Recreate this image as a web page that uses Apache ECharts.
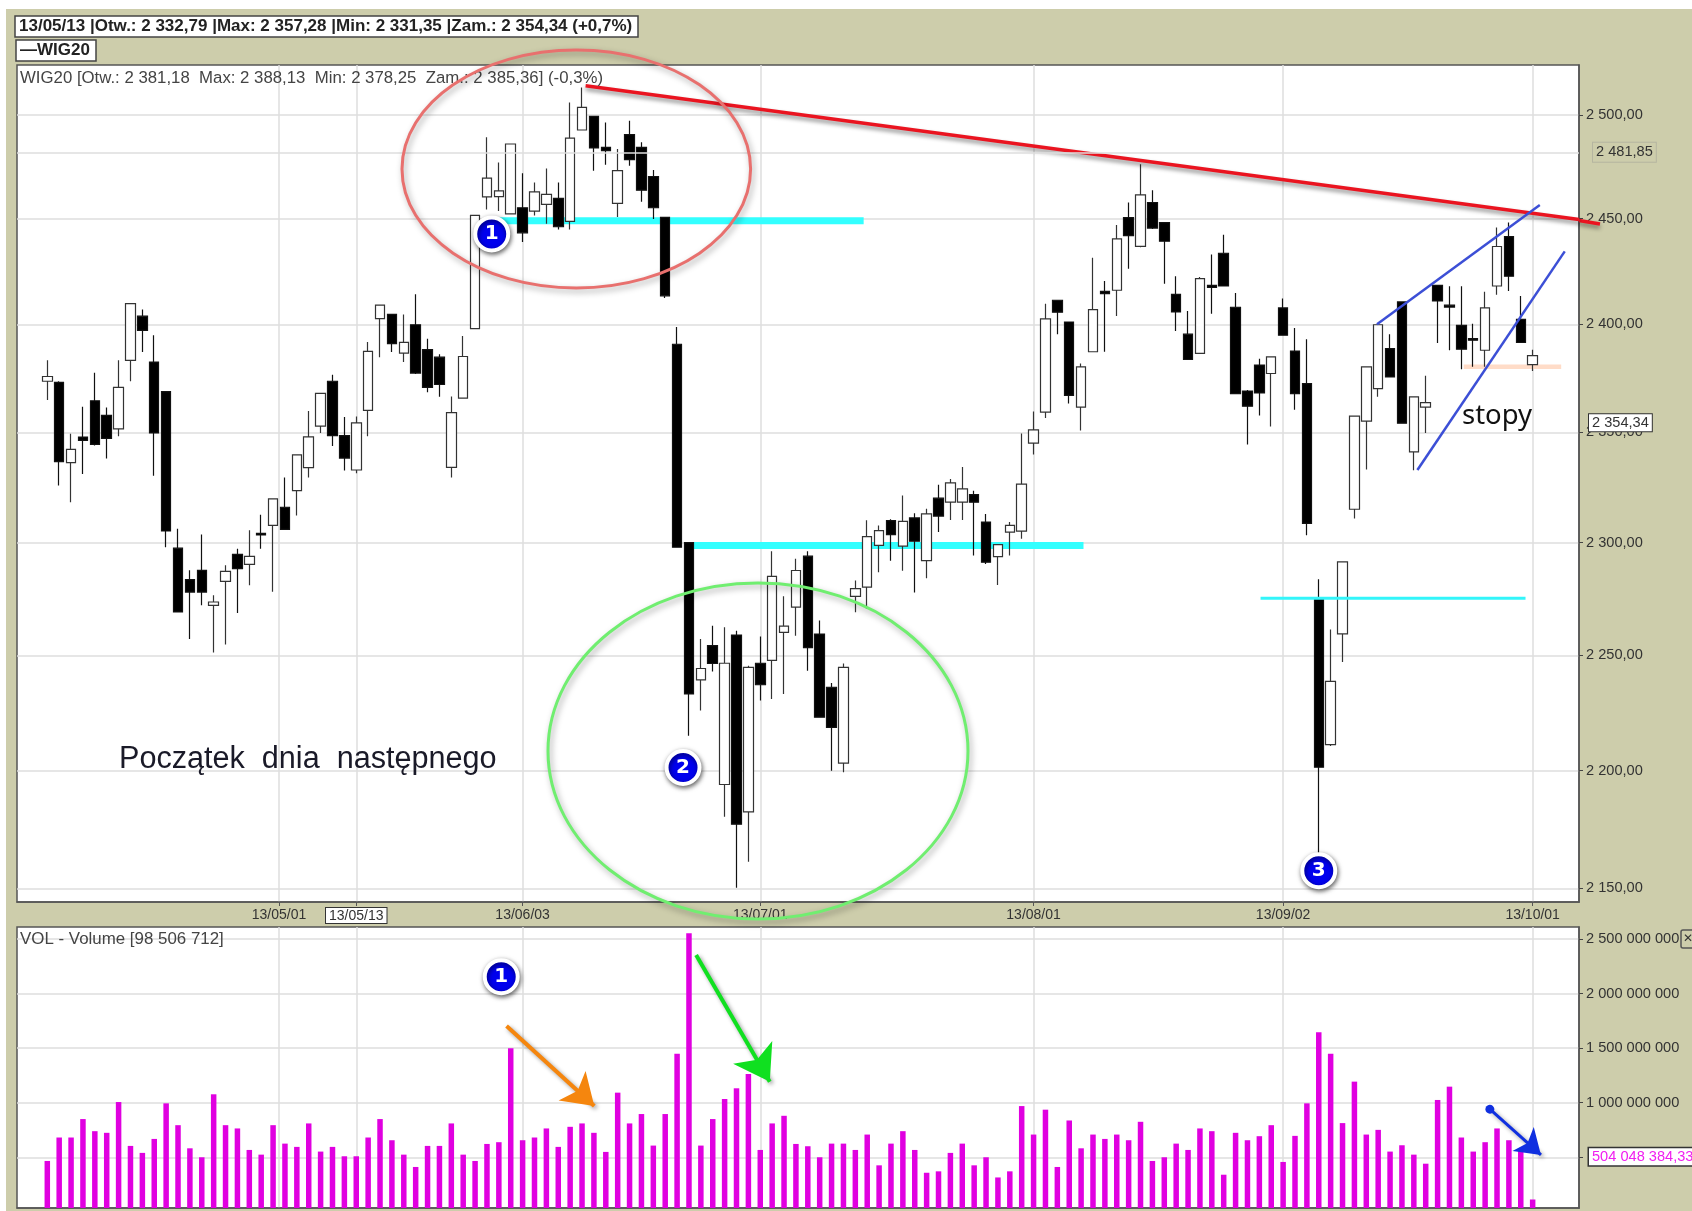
<!DOCTYPE html>
<html>
<head>
<meta charset="utf-8">
<style>
html,body{margin:0;padding:0;background:#fff;width:1692px;height:1211px;overflow:hidden}
#frame{position:absolute;left:6px;top:9px;right:0;bottom:0;background:#CDCDAB}
#chart{position:absolute;left:0;top:0;width:1692px;height:1211px;filter:blur(0.45px)}
</style>
<script src="https://cdn.jsdelivr.net/npm/echarts@6/dist/echarts.min.js"></script>
</head>
<body>
<div id="frame"></div>
<div id="chart"></div>
<script>
// Daily WIG20 values (trading-day index = array position)
const opens = [2373.5,2373.0,2336.1,2347.8,2364.5,2357.8,2351.6,2383.2,2403.8,2382.4,
2368.7,2297.5,2283.4,2287.6,2272.0,2282.7,2294.7,2290.2,2304.1,2307.7,
2315.9,2323.4,2333.9,2352.8,2373.5,2348.5,2332.79,2360.1,2402.7,2404.7,
2386.6,2399.8,2388.2,2384.7,2334.0,2365.7,2398.0,2460.4,2460.5,2452.3,
2455.2,2453.6,2456.8,2459.7,2448.7,2492.7,2499.3,2484.3,2457.3,2490.5,
2484.3,2470.2,2450.6,2390.7,2300.0,2239.2,2254.2,2194.0,2258.9,2182.3,
2246.5,2247.8,2260.1,2271.2,2293.9,2259.3,2236.0,2203.2,2276.0,2280.1,
2298.7,2309.9,2298.4,2311.1,2291.9,2320.0,2318.2,2318.2,2321.6,2309.2,
2293.7,2304.7,2305.1,2345.0,2359.3,2411.3,2401.1,2361.6,2387.2,2415.5,
2416.0,2450.5,2436.8,2457.7,2448.1,2414.1,2395.4,2386.4,2418.3,2433.5,
2408.0,2369.0,2381.0,2377.1,2407.7,2387.5,2372.4,2275.0,2211.1,2259.4,
2315.0,2355.1,2370.1,2388.7,2410.5,2341.0,2361.6,2418.3,2409.0,2399.5,
2393.3,2387.9,2418.0,2441.4,2402.3,2381.18];
const closes = [2375.7,2336.6,2342.2,2346.3,2344.5,2347.2,2370.7,2409.7,2397.2,2349.7,
2305.2,2269.1,2277.9,2277.9,2273.5,2287.1,2288.3,2293.8,2303.4,2319.7,
2305.9,2339.7,2347.9,2367.9,2348.5,2338.2,2354.34,2387.4,2409.0,2391.0,
2391.6,2377.3,2370.7,2372.0,2359.0,2385.0,2451.5,2469.4,2463.3,2485.9,
2443.2,2462.8,2461.6,2446.1,2488.8,2503.7,2484.0,2482.7,2473.0,2478.3,
2463.6,2455.2,2413.4,2297.9,2233.1,2244.2,2246.4,2246.5,2177.1,2244.7,
2237.1,2284.9,2262.8,2287.5,2253.4,2223.0,2218.6,2244.7,2279.4,2302.7,
2305.4,2303.6,2309.5,2300.6,2312.9,2311.9,2326.9,2324.2,2318.2,2291.2,
2299.1,2307.7,2326.4,2351.1,2402.6,2405.7,2367.0,2380.2,2406.9,2414.4,
2440.3,2441.9,2461.4,2445.5,2439.2,2405.8,2383.6,2421.5,2417.4,2418.0,
2367.8,2362.0,2368.1,2384.8,2394.9,2367.8,2308.6,2201.4,2238.6,2291.4,
2357.4,2380.2,2399.8,2375.5,2354.2,2366.3,2363.6,2411.0,2408.1,2388.4,
2392.6,2407.7,2436.7,2422.6,2391.5,2385.36];
const lows = [2364.8,2325.7,2318.2,2331.0,2344.0,2338.0,2348.2,2373.5,2387.1,2330.2,
2297.9,2269.1,2257.2,2272.0,2251.2,2254.7,2268.6,2280.9,2297.2,2278.0,
2305.9,2312.2,2329.4,2349.7,2343.7,2332.5,2331.35,2348.2,2384.7,2387.1,
2382.4,2376.9,2368.4,2366.3,2329.4,2365.7,2398.0,2454.4,2453.6,2452.3,
2438.9,2451.5,2447.6,2444.8,2444.8,2492.7,2473.0,2475.9,2450.8,2475.4,
2458.1,2449.8,2412.3,2297.9,2215.0,2225.9,2242.9,2180.2,2150.3,2161.2,
2230.2,2230.9,2233.1,2258.6,2243.2,2223.0,2199.9,2199.2,2269.0,2270.5,
2286.7,2291.9,2287.4,2277.7,2284.1,2304.7,2310.2,2310.2,2294.2,2290.4,
2281.1,2294.2,2301.7,2339.8,2356.5,2395.4,2363.2,2350.8,2387.2,2387.2,
2403.9,2426.2,2436.4,2445.0,2419.1,2396.9,2383.6,2386.4,2405.0,2417.9,
2367.8,2344.4,2357.7,2352.7,2394.9,2360.4,2303.3,2160.0,2210.5,2247.1,
2310.8,2333.0,2366.3,2375.5,2354.2,2332.7,2349.7,2391.3,2387.9,2379.1,
2380.2,2380.2,2413.9,2415.7,2391.5,2378.25];
const highs = [2383.2,2373.5,2349.3,2361.7,2377.4,2361.4,2383.2,2409.7,2406.9,2394.9,
2368.7,2306.2,2287.6,2303.6,2276.5,2289.9,2297.2,2305.5,2312.5,2319.9,
2329.4,2339.7,2359.8,2367.9,2376.5,2357.0,2357.28,2391.7,2409.0,2404.7,
2404.6,2414.1,2393.3,2386.0,2366.5,2394.5,2451.5,2489.2,2477.0,2485.9,
2471.8,2467.3,2474.1,2467.3,2506.1,2513.4,2499.3,2496.4,2483.5,2497.2,
2486.7,2473.3,2450.6,2398.8,2300.0,2257.1,2263.0,2262.3,2260.8,2245.4,
2258.2,2296.1,2276.0,2292.7,2296.1,2265.3,2237.9,2246.4,2283.1,2310.0,
2307.7,2310.5,2321.2,2313.2,2315.2,2326.1,2328.7,2334.2,2323.4,2312.9,
2299.1,2309.2,2349.5,2359.6,2409.7,2411.3,2401.1,2381.7,2431.4,2420.4,
2447.0,2457.7,2476.1,2463.6,2448.1,2422.6,2406.3,2422.3,2432.9,2442.3,
2414.7,2369.5,2384.0,2384.8,2412.1,2398.3,2393.0,2283.6,2261.3,2291.4,
2357.4,2380.2,2399.8,2395.4,2410.5,2366.3,2376.0,2418.3,2417.9,2417.9,
2400.3,2415.3,2445.8,2448.1,2413.3,2388.13];
// Volume in millions
const volumes = [466,681,681,850,739,724,1006,604,540,668,994,794,582,500,1077,794,764,567,524,794,
625,595,810,552,595,509,509,681,850,656,524,411,604,604,810,524,466,622,638,1500,
656,681,764,595,779,810,724,549,1092,810,896,607,896,1448,2553,607,850,1034,1132,1264,
567,810,880,622,601,500,625,625,567,708,426,625,739,567,358,371,540,625,426,500,
315,371,969,708,936,411,837,582,708,668,708,656,825,466,500,625,567,764,739,340,
724,656,693,794,457,696,994,1645,1448,813,1193,708,751,552,610,524,441,1025,1147,681,
552,638,764,656,582,113];

const priceTicks = [2150,2200,2250,2300,2350,2400,2450,2500];
const volumeTicks = [1000,1500,2000,2500];
const volumeGrid = [500,1000,1500,2000,2500];
const dateTickPositions = [19.5,26,40,60,83,104,125];
const dateTickLabels = ['13/05/01','13/05/13','13/06/03','13/07/01','13/08/01','13/09/02','13/10/01'];

const lastClose = 2354.34;
const previewLevel = 2481.85;
const lastVolume = 504.048;

// Hand-drawn annotations, in trading-day index and price / volume units
const cyanTop = [[37.8,2449],[68.7,2449]];
const cyanMid = [[54.4,2298.7],[87.2,2298.7]];
const cyanLow = [[102.1,2275.2],[124.4,2275.2]];
const salmonStops = [[119.2,2380.2],[127.4,2380.2]];
const redTrend = [[45.3,2514.3],[128.9,2449.6]];
const blueUpper = [[111.9,2400],[125.6,2456.5]];
const blueLower = [[115.3,2332.8],[127.7,2434.4]];
const priceBadges = [{name:'1',value:[37.4,2442.7]},{name:'2',value:[53.5,2201.3]},{name:'3',value:[107,2157.4]}];
const volumeBadges = [{name:'1',value:[38.2,2155]}];
const orangeArrow = [[38.65,1703],[46.03,970]];
const greenArrow = [[54.6,2353],[60.8,1192]];
const blueArrow = [[121.4,940],[125.7,521]];

const candleData = opens.map((o,i)=>[i,o,closes[i],lows[i],highs[i]]);
const volumeData = volumes.map((v,i)=>[i,v]);
const FONT = '"Liberation Sans", Arial, sans-serif';
const spaced = s => s.replace(/\B(?=(\d{3})+(?!\d))/g,' ');
const priceText = v => spaced(String(Math.floor(v))) + ',' + (v%1).toFixed(2).slice(2);
const gridLine = {color:'#DEDEDE',width:1.5};
const XMIN=-2.55, XMAX=128.9;
const redShadow = {shadowColor:'rgba(0,0,0,.45)',shadowBlur:4,shadowOffsetY:3};

function annotationLine(name,data,color,width,z,extra){
  return {name,type:'line',xAxisIndex:0,yAxisIndex:0,data,z,symbol:'none',showSymbol:false,clip:false,silent:true,animation:false,
    lineStyle:Object.assign({color,width,cap:'butt'},extra||{})};
}
function arrowLine(pts,color,startSym,headSize,width){
  return [{coord:pts[0],symbol:startSym||'none',symbolSize:9,lineStyle:{color,width:width,type:'solid',shadowColor:'rgba(0,0,0,.4)',shadowBlur:4,shadowOffsetX:2,shadowOffsetY:2},itemStyle:{color}},
          {coord:pts[1],symbol:'arrow',symbolSize:headSize,itemStyle:{color}}];
}
const badgeStyle = {
  type:'scatter',symbol:'circle',symbolSize:33,z:6,silent:true,animation:false,clip:false,
  itemStyle:{color:'#0000EE',borderColor:'#fff',borderWidth:4,shadowColor:'rgba(0,0,0,.55)',shadowBlur:5,shadowOffsetX:1,shadowOffsetY:2,opacity:1},
  label:{show:true,position:'inside',formatter:'{b}',color:'#fff',fontFamily:'"DejaVu Sans"',fontSize:20,fontWeight:'bold'}
};
const axisEdge = {show:true,onZero:false,lineStyle:{color:'#555',width:1.5}};

const chart = echarts.init(document.getElementById('chart'),null,{renderer:'canvas'});
chart.setOption({
  animation:false,
  backgroundColor:'transparent',
  grid:[
    {left:17,right:113,top:65,bottom:309,show:true,backgroundColor:'#fff',borderColor:'#555',borderWidth:1.5},
    {left:17,right:113,top:927,bottom:3,show:true,backgroundColor:'#fff',borderColor:'#555',borderWidth:1.5}
  ],
  xAxis:[
    {type:'value',gridIndex:0,min:XMIN,max:XMAX,
     axisLine:axisEdge,
     axisTick:{show:true,length:4,customValues:dateTickPositions,lineStyle:{color:'#555'}},
     splitLine:{show:true,lineStyle:gridLine},
     axisLabel:{show:true,customValues:dateTickPositions,margin:6,color:'#333',fontFamily:FONT,fontSize:14,hideOverlap:false,showMinLabel:true,showMaxLabel:true,
       formatter:v=>{const t=dateTickLabels[dateTickPositions.indexOf(v)];return v===26?'{box|'+t+'}':t;},
       rich:{box:{backgroundColor:'#fff',borderColor:'#333',borderWidth:1,padding:[1,3,0,3],color:'#333',fontFamily:FONT,fontSize:14}}}},
    {type:'value',gridIndex:1,min:XMIN,max:XMAX,
     axisLine:axisEdge,
     axisTick:{show:false,customValues:dateTickPositions},
     splitLine:{show:true,lineStyle:gridLine},
     axisLabel:{show:false}}
  ],
  yAxis:[
    {type:'log',logBase:10,gridIndex:0,position:'right',min:2144.3,max:2524.5,
     axisLine:axisEdge,
     axisTick:{show:true,length:4,customValues:priceTicks,lineStyle:{color:'#444'}},
     splitLine:{show:true,lineStyle:gridLine},minorTick:{show:false},minorSplitLine:{show:false},
     axisLabel:{show:true,customValues:priceTicks,margin:7,color:'#333',fontFamily:FONT,fontSize:14.6,formatter:v=>priceText(Math.round(v*100)/100)}},
    {type:'value',gridIndex:1,position:'right',min:35,max:2610,
     axisLine:axisEdge,
     axisTick:{show:true,length:4,customValues:volumeGrid,lineStyle:{color:'#444'}},
     splitLine:{show:true,lineStyle:gridLine},
     axisLabel:{show:true,customValues:volumeTicks,margin:7,color:'#333',fontFamily:FONT,fontSize:14.6,formatter:v=>spaced(String(Math.round(v*1e6)))}}
  ],
  series:[
    annotationLine('cyanTop',cyanTop,'#33FFFF',7,1),
    annotationLine('cyanMid',cyanMid,'#33FFFF',7,1),
    annotationLine('salmon',salmonStops,'#FFDCC8',4.5,1),
    {type:'candlestick',name:'WIG20',xAxisIndex:0,yAxisIndex:0,data:candleData,barWidth:10,z:2,silent:true,animation:false,
     itemStyle:{color:'#fff',color0:'#000',borderColor:'#333',borderColor0:'#111',borderWidth:1.2},
     markLine:{silent:true,symbol:'none',animation:false,precision:2,
       data:[
        {yAxis:previewLevel,lineStyle:{color:'#DEDEDE',width:1.5,type:'solid'},
         label:{show:true,position:'end',distance:14,formatter:priceText(previewLevel),color:'#333',fontFamily:FONT,fontSize:14.6,backgroundColor:'#CDCDAB',borderColor:'#B5B5A0',borderWidth:1,padding:[2,3]}},
        {yAxis:lastClose,lineStyle:{color:'rgba(0,0,0,0)',width:1,type:'solid'},
         label:{show:true,position:'end',distance:10,formatter:priceText(lastClose),color:'#333',fontFamily:FONT,fontSize:14.6,backgroundColor:'#fff',borderColor:'#333',borderWidth:1,padding:[1,3]}}
       ]}},
    annotationLine('cyanLow',cyanLow,'#33F5FA',3,3),
    annotationLine('redTrend',redTrend,'#EA1420',3.5,4,redShadow),
    annotationLine('blueUpper',blueUpper,'#3C4FD6',2.5,4),
    annotationLine('blueLower',blueLower,'#3C4FD6',2.5,4),
    Object.assign({name:'badges',xAxisIndex:0,yAxisIndex:0,data:priceBadges},badgeStyle),
    {type:'bar',name:'VOL',xAxisIndex:1,yAxisIndex:1,data:volumeData,barWidth:5.5,z:2,silent:true,animation:false,
     itemStyle:{color:'#E000E0'},
     markLine:{silent:true,symbol:'none',animation:false,
       data:[{yAxis:lastVolume,lineStyle:{color:'rgba(0,0,0,0)',width:1,type:'solid'},
         label:{show:true,position:'end',distance:10,formatter:'504 048 384,33',color:'#F020F0',fontFamily:FONT,fontSize:14.6,backgroundColor:'#fff',borderColor:'#333',borderWidth:1.5,padding:[1,3]}}]}},
    Object.assign({name:'volBadge',xAxisIndex:1,yAxisIndex:1,data:volumeBadges},badgeStyle,{
      markLine:{silent:true,animation:false,
        label:{show:false},
        data:[arrowLine(orangeArrow,'#F5860E','none',30,4),arrowLine(greenArrow,'#10E020','none',34,4),arrowLine(blueArrow,'#1030E0','circle',24,3)]}})
  ],
  graphic:[
    // Top legend boxes
    {type:'rect',z:20,silent:true,shape:{x:15,y:16,width:623,height:21},style:{fill:'#fff',stroke:'#444',lineWidth:1.5}},
    {type:'text',z:21,silent:true,x:19,y:26.5,style:{text:'13/05/13 |Otw.: 2 332,79 |Max: 2 357,28 |Min: 2 331,35 |Zam.: 2 354,34 (+0,7%)',fill:'#222',font:'bold 17px '+FONT,verticalAlign:'middle'}},
    {type:'rect',z:20,silent:true,shape:{x:16,y:40,width:80,height:21},style:{fill:'#fff',stroke:'#444',lineWidth:1.5}},
    {type:'text',z:21,silent:true,x:20,y:50.5,style:{text:'—WIG20',fill:'#222',font:'bold 17px '+FONT,verticalAlign:'middle'}},
    // Panel captions
    {type:'text',z:8,silent:true,x:20,y:78,style:{text:'WIG20 [Otw.: 2 381,18  Max: 2 388,13  Min: 2 378,25  Zam.: 2 385,36] (-0,3%)',fill:'#444',font:'16.8px '+FONT,verticalAlign:'middle'}},
    {type:'text',z:8,silent:true,x:20,y:939,style:{text:'VOL - Volume [98 506 712]',fill:'#444',font:'16.9px '+FONT,verticalAlign:'middle'}},
    // Hand-drawn notes
    {type:'text',z:9,silent:true,x:119,y:760,style:{text:'Początek  dnia  następnego',fill:'#1A1A28',font:'30.6px '+FONT,verticalAlign:'middle'}},
    {type:'text',z:9,silent:true,x:1462,y:416,style:{text:'stopy',fill:'#111',font:'27.5px "Noto Sans"',verticalAlign:'middle'}},
    {type:'line',z:4,silent:true,shape:{x1:1579,y1:220.5,x2:1600,y2:224},style:{stroke:'#EA1420',lineWidth:3.5,shadowColor:'rgba(0,0,0,.45)',shadowBlur:4,shadowOffsetY:3}},
    {type:'ellipse',z:10,silent:true,shape:{cx:576.3,cy:169,rx:174.3,ry:119},style:{fill:'none',stroke:'#E8706E',lineWidth:3,shadowColor:'rgba(0,0,0,.35)',shadowBlur:6,shadowOffsetX:2,shadowOffsetY:3}},
    {type:'ellipse',z:10,silent:true,shape:{cx:758,cy:751,rx:210,ry:168},style:{fill:'none',stroke:'#70EE70',lineWidth:3,shadowColor:'rgba(0,0,0,.35)',shadowBlur:6,shadowOffsetX:2,shadowOffsetY:3}},
    // Close button
    {type:'rect',z:20,silent:true,shape:{x:1681,y:930,width:14,height:18,r:2},style:{fill:'#CDCDAB',stroke:'#555',lineWidth:1.5}},
    {type:'text',z:21,silent:true,x:1683,y:939,style:{text:'✕',fill:'#333',font:'bold 12px "DejaVu Sans"',verticalAlign:'middle'}}
  ]
});
</script>
</body>
</html>
